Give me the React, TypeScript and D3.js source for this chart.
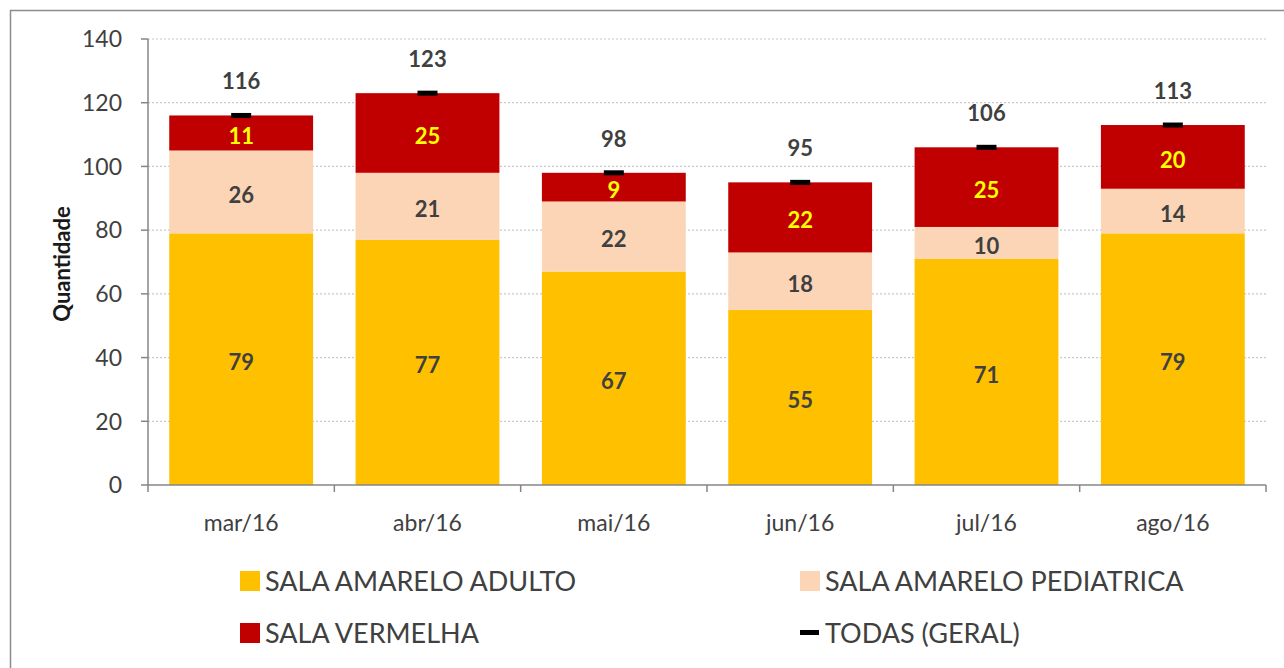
import React from "react";
import * as d3 from "d3";

const categories = ["mar/16", "abr/16", "mai/16", "jun/16", "jul/16", "ago/16"];
const adulto = [79, 77, 67, 55, 71, 79];
const pediatrica = [26, 21, 22, 18, 10, 14];
const vermelha = [11, 25, 9, 22, 25, 20];
const todas = [116, 123, 98, 95, 106, 113];
const yTicks = [0, 20, 40, 60, 80, 100, 120, 140];

const seriesNames = ["SALA AMARELO ADULTO", "SALA AMARELO PEDIATRICA", "SALA VERMELHA", "TODAS (GERAL)"];
const colors = ["#FFC000", "#FBD5B5", "#C00000", "#000000"];
const labelColors = ["#404040", "#404040", "#FFFF00"];

const FONT = "Lato, 'Open Sans', sans-serif";

export default function App() {
  const left = 148, right = 1266, top = 39, bottom = 485;
  const x = d3.scaleBand<string>().domain(categories).range([left, right]).paddingInner(0.228).paddingOuter(0.114);
  const xb = d3.scaleBand<string>().domain(categories).range([left, right]);
  const y = d3.scaleLinear().domain([0, 140]).range([bottom, top]);

  const data = categories.map((c, i) => ({ c, a: adulto[i], p: pediatrica[i], v: vermelha[i] }));
  const stack = d3.stack<any>().keys(["a", "p", "v"])(data);

  return (
    <svg width={1284} height={668} style={{ position: "absolute", left: 0, top: 0 }} fontFamily={FONT}>
      <rect x={0} y={0} width={1284} height={668} fill="#fff" />
      <rect x={10.5} y={10.5} width={1290} height={680} fill="none" stroke="#8c8c8c" strokeWidth={1.5} />
      {yTicks.slice(1).map((t) => (
        <line key={t} x1={left} x2={right} y1={y(t)} y2={y(t)} stroke="#c8c8c8" strokeWidth={1.2} strokeDasharray="2,2" />
      ))}
      {stack.map((layer, li) => (
        <g key={li}>
          {layer.map((d, i) => (
            <rect key={i} x={x(categories[i])} width={x.bandwidth()} y={y(d[1])} height={y(d[0]) - y(d[1])} fill={colors[li]} />
          ))}
        </g>
      ))}
      {stack.map((layer, li) => (
        <g key={"l" + li}>
          {layer.map((d, i) => (
            <text key={i} x={x(categories[i])! + x.bandwidth() / 2} y={y((d[0] + d[1]) / 2) + 3} dy="0.36em" textAnchor="middle"
              fontSize={22} fontWeight="bold" fill={labelColors[li]}>
              {d[1] - d[0]}
            </text>
          ))}
        </g>
      ))}
      {todas.map((t, i) => (
        <g key={"t" + i}>
          <rect x={x(categories[i])! + x.bandwidth() / 2 - 10} y={y(t) - 2.5} width={20} height={5} fill="#000" />
          <text x={x(categories[i])! + x.bandwidth() / 2} y={y(t) - 34} dy="0.36em" textAnchor="middle" fontSize={22} fontWeight="bold" fill="#404040">
            {t}
          </text>
        </g>
      ))}
      {/* y axis */}
      <line x1={left} x2={left} y1={top} y2={bottom} stroke="#868686" strokeWidth={1.5} />
      {yTicks.map((t) => (
        <g key={"yt" + t}>
          <line x1={left - 7} x2={left} y1={y(t)} y2={y(t)} stroke="#868686" strokeWidth={1.5} />
          <text x={122} y={y(t)} dy="0.36em" textAnchor="end" fontSize={23} fill="#404040">{t}</text>
        </g>
      ))}
      {/* x axis */}
      <line x1={left} x2={right} y1={bottom} y2={bottom} stroke="#868686" strokeWidth={1.5} />
      {categories.map((c, i) => (
        <g key={"xt" + c}>
          <line x1={xb(c)!} x2={xb(c)!} y1={bottom} y2={bottom + 7} stroke="#868686" strokeWidth={1.5} />
          {i === categories.length - 1 && (
            <line x1={right} x2={right} y1={bottom} y2={bottom + 7} stroke="#868686" strokeWidth={1.5} />
          )}
          <text x={xb(c)! + xb.bandwidth() / 2} y={523} dy="0.36em" textAnchor="middle" fontSize={23} fill="#404040">{c}</text>
        </g>
      ))}
      <text transform={`translate(62,${(top + bottom) / 2 + 2}) rotate(-90)`} textAnchor="middle" dy="0.36em" fontSize={22} fontWeight="bold" fill="#1a1a1a">
        Quantidade
      </text>
      {/* legend */}
      {seriesNames.map((s, i) => {
        const lx = i % 2 === 0 ? 240 : 800;
        const ly = i < 2 ? 581 : 633;
        return (
          <g key={"lg" + i}>
            {i < 3 ? (
              <rect x={lx} y={ly - 10} width={20} height={20} fill={colors[i]} />
            ) : (
              <rect x={lx} y={ly - 3} width={19} height={5} fill="#000" />
            )}
            <text x={lx + 25} y={ly} dy="0.36em" fontSize={27} fill="#404040">{s}</text>
          </g>
        );
      })}
    </svg>
  );
}
